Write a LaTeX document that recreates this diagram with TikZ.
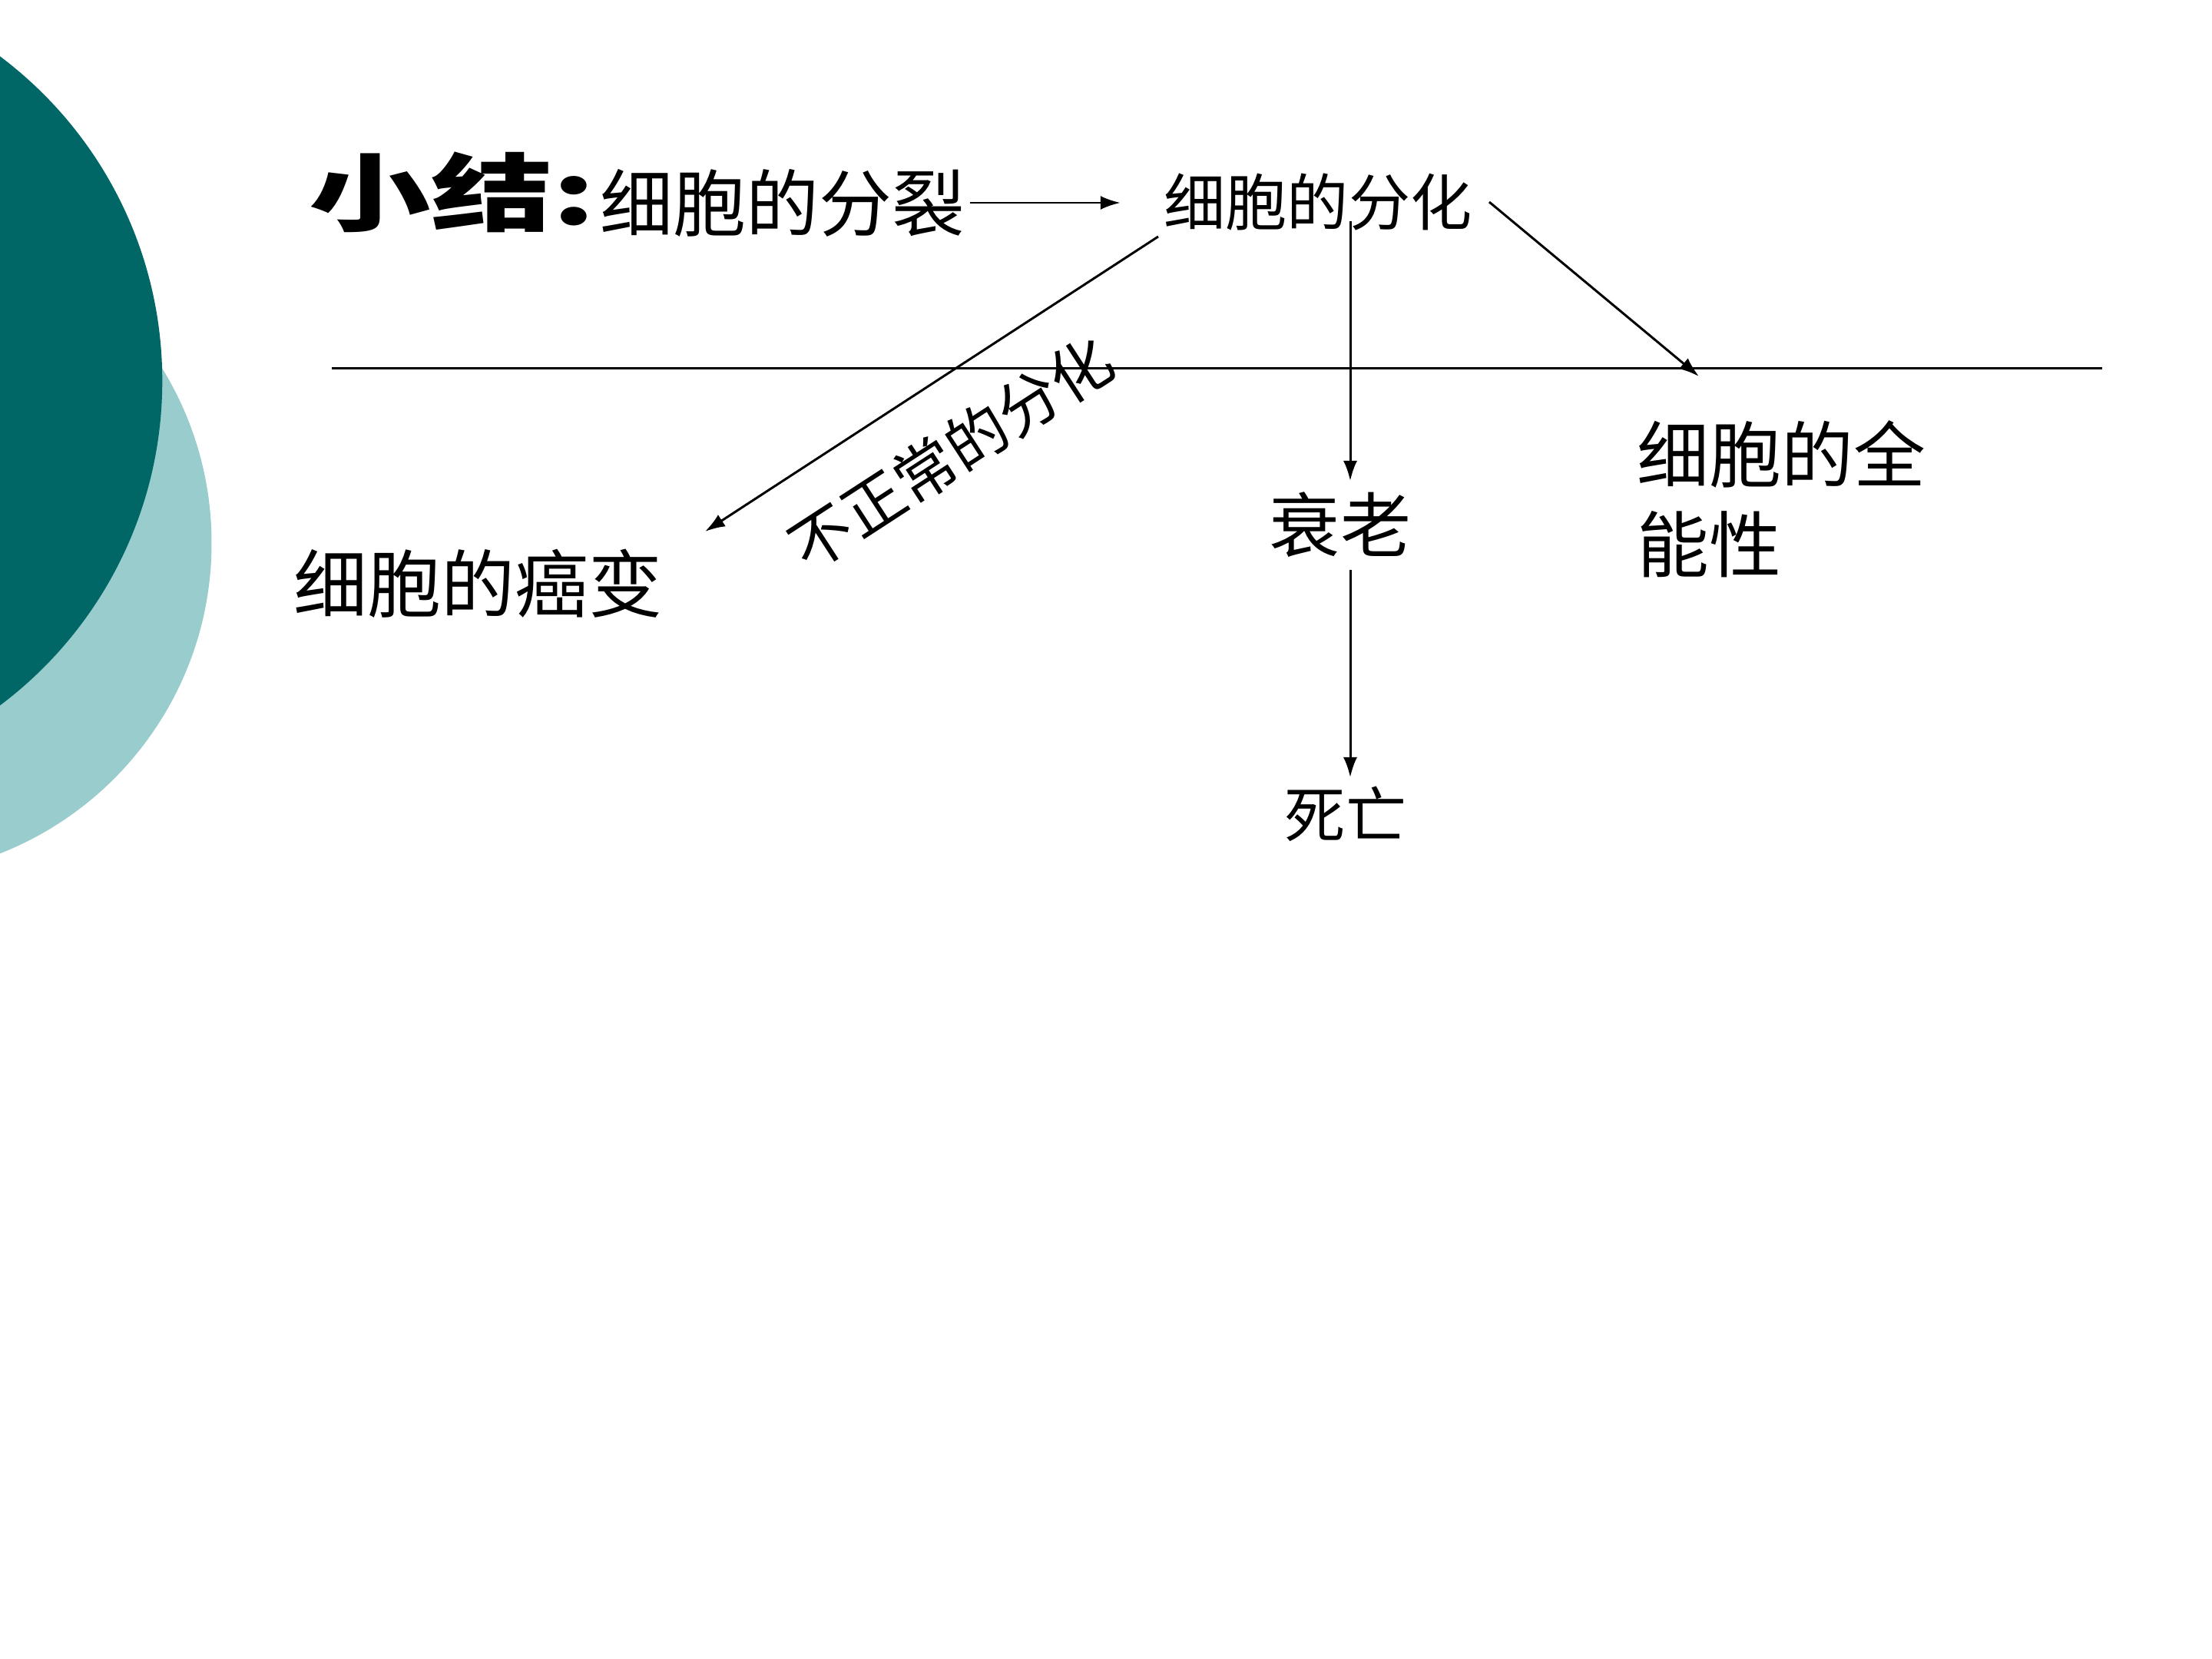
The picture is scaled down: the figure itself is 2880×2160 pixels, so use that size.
\documentclass[tikz,border=0pt]{standalone}
\usepackage{fontspec}
\usepackage{graphicx}
\newfontfamily\cjk{Noto Sans CJK SC}
\usetikzlibrary{arrows.meta}
\definecolor{darkteal}{RGB}{0,102,102}
\definecolor{lightteal}{RGB}{153,204,204}
\tikzset{
  txt/.style={inner sep=0pt},
  arr/.style={line width=0.85pt, -{Latex[length=0.26cm,width=0.18cm]}},
  rule/.style={line width=0.85pt}
}
\begin{document}
\begin{tikzpicture}[x=0.01cm,y=-0.01cm]
\useasboundingbox (0,0) rectangle (2880,2160);
\fill[white] (0,0) rectangle (2880,2160);
\begin{scope}
  \clip (0,0) rectangle (2880,2160);
  \fill[lightteal] (-158.5,707.1) circle[radius=434];
  \fill[darkteal] (-316.8,495.9) circle[radius=528.1];
\end{scope}

% nodes
\node[txt, anchor=west] (title) at (402,250)
  {\scalebox{1.44}[1]{\cjk\fontsize{31.3pt}{36pt}\selectfont\bfseries 小结:}};
\node[txt, anchor=west, font=\cjk\fontsize{27pt}{32pt}\selectfont] (split) at (781,264) {细胞的分裂};
\node[txt, font=\cjk\fontsize{22.8pt}{27pt}\selectfont] (diff) at (1716,263) {细胞的分化};
\node[txt, font=\cjk\fontsize{26.2pt}{31pt}\selectfont] (aging) at (1745,683) {衰老};
\node[txt, font=\cjk\fontsize{22.5pt}{27pt}\selectfont] (death) at (1752,1060) {死亡};
\node[txt, anchor=west, align=left, font=\cjk\fontsize{26.7pt}{33.3pt}\selectfont] (toti) at (2131,650)
  {细胞的全\\能性};
\node[txt, anchor=west, font=\cjk\fontsize{27.3pt}{32pt}\selectfont] (cancer) at (382,760) {细胞的癌变};
\node[txt, rotate=33, font=\cjk\fontsize{22.8pt}{27pt}\selectfont] (abn) at (1238,590) {不正常的分化};

% connector end points
\coordinate (rl) at (432,479);
\coordinate (rr) at (2737,479);
\coordinate (d1) at (1508,308);
\coordinate (d1e) at (918,692);
\coordinate (v1) at (1758,288);
\coordinate (v1e) at (1758,626);
\coordinate (v2) at (1758,742);
\coordinate (v2e) at (1758,1012);
\coordinate (r1) at (1939,263);
\coordinate (r1e) at (2212,490);

% connectors
\draw[rule] (rl) -- (rr);
\draw[arr, shorten <=0.06cm, shorten >=0.56cm] (split.east) -- (diff.west |- split.east);
\draw[arr] (d1) -- (d1e);
\draw[arr] (v1) -- (v1e);
\draw[arr] (v2) -- (v2e);
\draw[arr] (r1) -- (r1e);
\end{tikzpicture}
\end{document}
